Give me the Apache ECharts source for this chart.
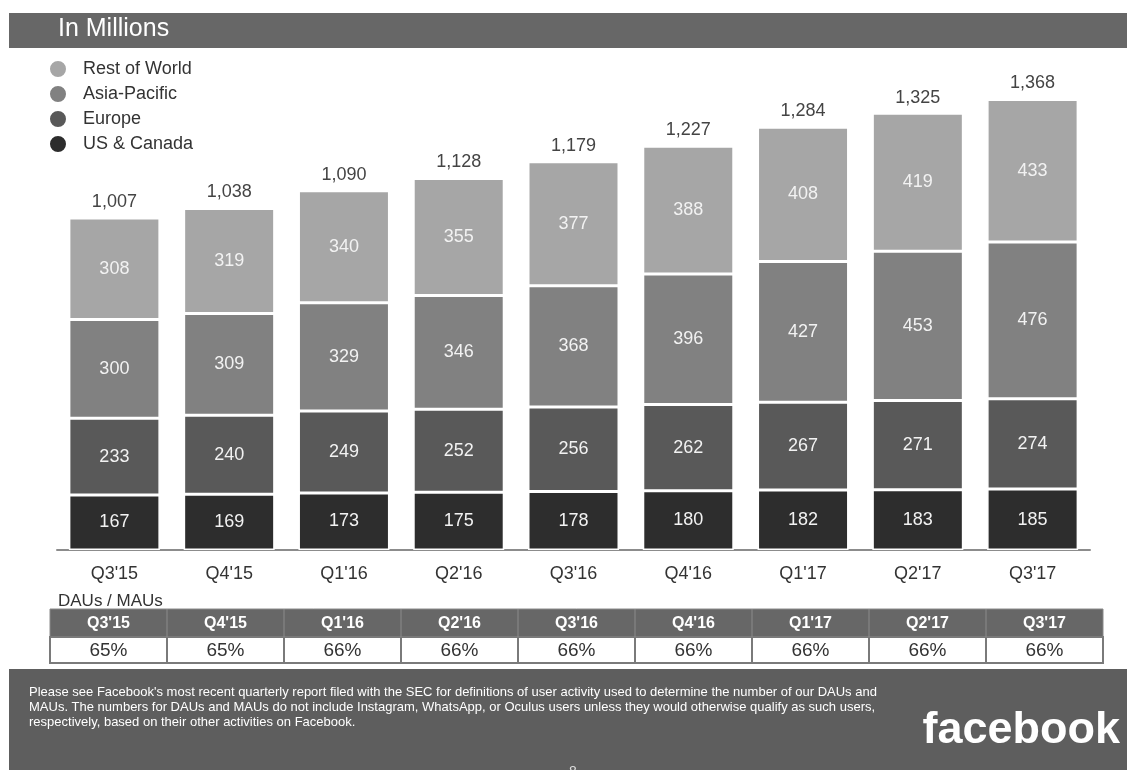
<!DOCTYPE html>
<html>
<head>
<meta charset="utf-8">
<script src="https://cdn.jsdelivr.net/npm/echarts@6/dist/echarts.min.js"></script>
<style>
  html, body { margin: 0; padding: 0; background: #fff; }
  #chart { width: 1127px; height: 770px; }
</style>
</head>
<body>
<div id="chart"></div>
<script>
// Quarterly monthly active users by region, in millions
const quarters = ["Q3'15", "Q4'15", "Q1'16", "Q2'16", "Q3'16", "Q4'16", "Q1'17", "Q2'17", "Q3'17"];
const usCanada = [167, 169, 173, 175, 178, 180, 182, 183, 185];
const europe = [233, 240, 249, 252, 256, 262, 267, 271, 274];
const asiaPacific = [300, 309, 329, 346, 368, 396, 427, 453, 476];
const restOfWorld = [308, 319, 340, 355, 377, 388, 408, 419, 433];
const totals = [1007, 1038, 1090, 1128, 1179, 1227, 1284, 1325, 1368];

// DAU / MAU ratio table
const dauMauQuarters = ["Q3'15", "Q4'15", "Q1'16", "Q2'16", "Q3'16", "Q4'16", "Q1'17", "Q2'17", "Q3'17"];
const dauMauPct = [65, 65, 66, 66, 66, 66, 66, 66, 66];

const footnoteLines = [
  "Please see Facebook's most recent quarterly report filed with the SEC for definitions of user activity used to determine the number of our DAUs and",
  "MAUs. The numbers for DAUs and MAUs do not include Instagram, WhatsApp, or Oculus users unless they would otherwise qualify as such users,",
  "respectively, based on their other activities on Facebook."
];

const FONT = '"Liberation Sans", Arial, Helvetica, sans-serif';
const colors = {
  us: '#2d2d2d',
  europe: '#595959',
  asia: '#818181',
  row: '#a6a6a6'
};

const chart = echarts.init(document.getElementById('chart'), null, { renderer: 'canvas' });

const segLabel = {
  show: true,
  position: 'inside',
  color: '#f2f2f2',
  fontSize: 18,
  fontFamily: FONT
};

function stackSeries(name, data, color) {
  return {
    name: name,
    type: 'bar',
    stack: 'mau',
    barWidth: 91,
    data: data,
    itemStyle: { color: color, borderColor: '#ffffff', borderWidth: 1.5 },
    label: segLabel,
    emphasis: { disabled: true },
    silent: true
  };
}

// Table drawn as graphic elements built from the ratio arrays
const tblLeft = 50, tblColW = 117, hdrTop = 609, hdrH = 28, valH = 26;
const tblRight = tblLeft + tblColW * dauMauQuarters.length;
const tableGraphics = [];
tableGraphics.push({
  type: 'rect', shape: { x: tblLeft, y: hdrTop, width: tblRight - tblLeft, height: hdrH },
  style: { fill: '#676767', stroke: '#8a8a8a', lineWidth: 1 }
});
tableGraphics.push({
  type: 'rect', shape: { x: tblLeft, y: hdrTop + hdrH, width: tblRight - tblLeft, height: valH },
  style: { fill: '#ffffff', stroke: '#7a7a7a', lineWidth: 2 }
});
dauMauQuarters.forEach(function (q, i) {
  const x0 = tblLeft + i * tblColW;
  if (i > 0) {
    tableGraphics.push({
      type: 'line', shape: { x1: x0, y1: hdrTop, x2: x0, y2: hdrTop + hdrH },
      style: { stroke: '#8c8c8c', lineWidth: 1 }
    });
    tableGraphics.push({
      type: 'line', shape: { x1: x0, y1: hdrTop + hdrH, x2: x0, y2: hdrTop + hdrH + valH },
      style: { stroke: '#7a7a7a', lineWidth: 2 }
    });
  }
  tableGraphics.push({
    type: 'text', x: x0 + tblColW / 2, y: hdrTop + hdrH / 2 + 1,
    style: { text: q, fill: '#ffffff', font: 'bold 16px ' + FONT, textAlign: 'center', textVerticalAlign: 'middle' }
  });
  tableGraphics.push({
    type: 'text', x: x0 + tblColW / 2, y: hdrTop + hdrH + valH / 2 + 1,
    style: { text: dauMauPct[i] + '%', fill: '#333333', font: '19px ' + FONT, textAlign: 'center', textVerticalAlign: 'middle' }
  });
});

const footerGraphics = [
  { type: 'rect', shape: { x: 9, y: 669, width: 1118, height: 101 }, style: { fill: '#5e5e5e' }, z: -1 }
];
footnoteLines.forEach(function (line, i) {
  footerGraphics.push({
    type: 'text', x: 29, y: 692 + i * 15,
    style: { text: line, fill: '#ffffff', font: '13px ' + FONT, textVerticalAlign: 'middle' }
  });
});
footerGraphics.push({
  type: 'text', x: 1120, y: 753,
  style: { text: 'facebook', fill: '#ffffff', font: 'bold 45px ' + FONT, textAlign: 'right', textVerticalAlign: 'bottom' }
});
footerGraphics.push({
  type: 'text', x: 573, y: 765,
  style: { text: '8', fill: '#dddddd', font: '14px ' + FONT, textAlign: 'center', textVerticalAlign: 'top' }
});

const option = {
  animation: false,
  backgroundColor: '#ffffff',
  textStyle: { fontFamily: FONT },
  legend: {
    orient: 'vertical',
    left: 43,
    top: 54,
    itemWidth: 18,
    itemHeight: 18,
    itemGap: 5,
    icon: 'circle',
    selectedMode: false,
    data: ['Rest of World', 'Asia-Pacific', 'Europe', 'US & Canada'],
    textStyle: { fontSize: 18, color: '#333333', fontFamily: FONT, padding: [0, 0, 0, 11] }
  },
  grid: { left: 57, right: 37, top: 56, bottom: 220, containLabel: false },
  xAxis: {
    type: 'category',
    data: quarters,
    axisLine: { lineStyle: { color: '#8c8c8c', width: 2 } },
    axisTick: { show: false },
    axisLabel: { color: '#333333', fontSize: 18, margin: 15, fontFamily: FONT }
  },
  yAxis: {
    type: 'value',
    min: 0,
    max: 1500,
    show: false,
    splitLine: { show: false }
  },
  series: [
    stackSeries('US & Canada', usCanada, colors.us),
    stackSeries('Europe', europe, colors.europe),
    stackSeries('Asia-Pacific', asiaPacific, colors.asia),
    stackSeries('Rest of World', restOfWorld, colors.row),
    {
      name: 'Total',
      type: 'bar',
      barWidth: 91,
      barGap: '-100%',
      data: totals,
      z: 1,
      silent: true,
      itemStyle: { color: 'rgba(0,0,0,0)' },
      label: {
        show: true,
        position: 'top',
        distance: 7,
        color: '#444444',
        fontSize: 18,
        fontFamily: FONT,
        formatter: function (p) { return p.value.toLocaleString('en-US'); }
      },
      emphasis: { disabled: true }
    }
  ],
  graphic: [
    { type: 'rect', shape: { x: 9, y: 13, width: 1118, height: 35 }, style: { fill: '#676767' }, z: -1 },
    {
      type: 'text', x: 58, y: 29,
      style: { text: 'In Millions', fill: '#ffffff', font: '25px ' + FONT, textVerticalAlign: 'middle' }
    },
    {
      type: 'text', x: 58, y: 601,
      style: { text: 'DAUs / MAUs', fill: '#333333', font: '17px ' + FONT, textVerticalAlign: 'middle' }
    }
  ].concat(tableGraphics).concat(footerGraphics)
};

chart.setOption(option);
</script>
</body>
</html>
